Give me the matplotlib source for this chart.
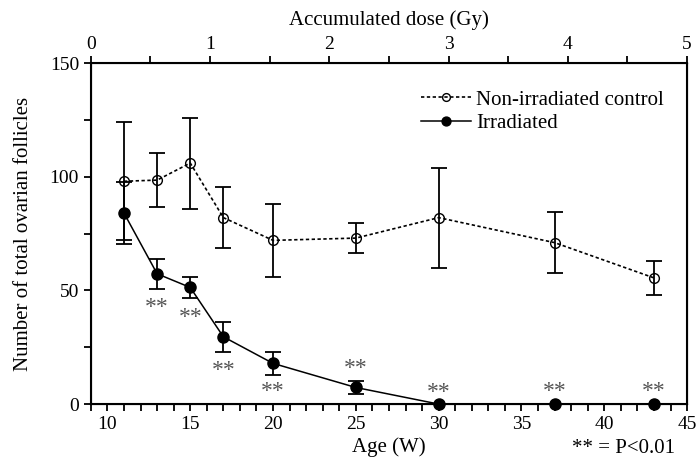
import matplotlib.pyplot as plt
from matplotlib.ticker import MultipleLocator

plt.rcParams['font.family'] = ['Liberation Serif', 'DejaVu Serif']

age = [11, 13, 15, 17, 20, 25, 30, 37, 43]

ctrl = [98, 98.5, 106, 82, 72, 73, 82, 71, 55.5]
ctrl_err = [26, 12, 20, 13.5, 16, 6.5, 22, 13.5, 7.5]

irr = [84, 57.3, 51.3, 29.6, 17.9, 7.3, 0, 0, 0]
irr_err = [13.5, 6.5, 4.8, 6.5, 5.1, 2.8, 0, 0, 0]

# ** marks: age, y position
star_age = [13, 15, 17, 20, 25, 30, 37, 43]
star_y = [45, 40.6, 17.2, 7.9, 18, 7.6, 7.8, 7.8]

dots = (0, (2, 1.5))

fig = plt.figure(figsize=(6.99, 4.65), dpi=100)
ax = fig.add_axes([0.130, 0.131, 0.853, 0.7335])

ax.errorbar(age, ctrl, yerr=ctrl_err, fmt='none', ecolor='black',
            elinewidth=1.3, capsize=6, capthick=1.3, clip_on=False, zorder=2)
ax.plot(age, ctrl, marker='o', ls=dots, color='black', lw=1.2, mfc='none',
        mec='black', ms=7, label='Non-irradiated control', clip_on=False, zorder=3)
ax.errorbar(age, irr, yerr=irr_err, fmt='none', ecolor='black',
            elinewidth=1.3, capsize=6, capthick=1.3, clip_on=False, zorder=2)
ax.plot(age, irr, marker='o', ls='-', color='black', lw=1.1, mfc='black',
        mec='black', ms=8, label='Irradiated', clip_on=False, zorder=4)

for a, y in zip(star_age, star_y):
    ax.annotate('**', (a, y), xytext=(0, -4), textcoords='offset points',
                ha='center', va='center', fontsize=17, color='#555555')

ax.set_xlim(9, 45)
ax.set_ylim(0, 150)
ax.xaxis.set_major_locator(MultipleLocator(5))
ax.xaxis.set_minor_locator(MultipleLocator(1))
ax.yaxis.set_major_locator(MultipleLocator(50))
ax.yaxis.set_minor_locator(MultipleLocator(25))
ax.tick_params(which='both', labelsize=14, width=1.3, length=5, direction='out')
for s in ax.spines.values():
    s.set_linewidth(1.5)

ax.set_ylabel('Number of total ovarian follicles', fontsize=15, labelpad=12)
ax.set_xlabel('Age (W)', fontsize=15, labelpad=3)
ax.text(0.98, -0.129, '** = P<0.01', transform=ax.transAxes, ha='right',
        va='center', fontsize=15)

top = ax.twiny()
top.set_xlim(0, 5)
top.xaxis.set_major_locator(MultipleLocator(1))
top.xaxis.set_minor_locator(MultipleLocator(0.5))
top.tick_params(which='both', labelsize=14, width=1.3, length=5, pad=2)
top.set_xlabel('Accumulated dose (Gy)', fontsize=15, labelpad=8)

ax.legend(loc='upper left', bbox_to_anchor=(0.54, 0.945), frameon=False,
          fontsize=15, handlelength=2.4, handletextpad=0.25, labelspacing=0.2,
          borderaxespad=0, markerscale=0.8)

fig.savefig('out.png', dpi=100)
